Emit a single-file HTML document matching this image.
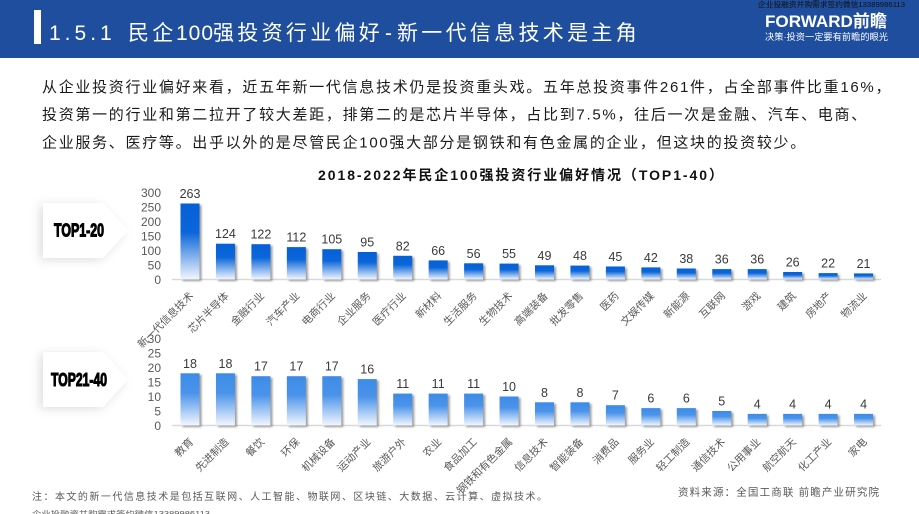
<!DOCTYPE html>
<html><head><meta charset="utf-8"><style>
html,body{margin:0;padding:0;background:#fff;}
body{width:919px;height:514px;overflow:hidden;}
svg{display:block;}
.f{font-family:"Liberation Sans","Noto Sans CJK SC",sans-serif;}
.v{font-family:"Liberation Sans",sans-serif;font-size:12.5px;fill:#3a3a3a;text-anchor:middle;}
.y{font-family:"Liberation Sans",sans-serif;font-size:12px;fill:#595959;text-anchor:end;}
.xl{font-family:"Liberation Sans","Noto Sans CJK SC",sans-serif;font-size:10.5px;fill:#595959;text-anchor:end;}
.s{fill:#7a7a7a;opacity:.75;filter:url(#bl);}
</style></head><body>
<svg width="919" height="514" viewBox="0 0 919 514" xmlns="http://www.w3.org/2000/svg">
<defs>
<linearGradient id="g1" x1="0" y1="0" x2="0" y2="1"><stop offset="0" stop-color="#0560d8"/><stop offset="0.38" stop-color="#0b66da"/><stop offset="1" stop-color="#f3f7fe"/></linearGradient>
<linearGradient id="g2" x1="0" y1="0" x2="0" y2="1"><stop offset="0" stop-color="#3d8be8"/><stop offset="0.38" stop-color="#4a93ea"/><stop offset="1" stop-color="#f3f7fe"/></linearGradient>
<filter id="bl" x="-30%" y="-30%" width="160%" height="160%"><feGaussianBlur stdDeviation="1"/></filter>
<filter id="ds" x="-30%" y="-40%" width="160%" height="180%"><feDropShadow dx="-3" dy="2" stdDeviation="5" flood-color="#000" flood-opacity="0.13"/></filter>
</defs>

<!-- header -->
<rect x="0" y="0" width="919" height="58" fill="#1f4e9e"/>
<rect x="34" y="10" width="7" height="34" fill="#fff"/>
<text class="f" y="40" font-size="21" fill="#fff">
<tspan x="49" letter-spacing="4">1.5.1</tspan><tspan x="128" letter-spacing="3.3">民企</tspan><tspan x="176" letter-spacing="1">100</tspan><tspan x="213" letter-spacing="3.3">强投资行业偏好</tspan><tspan x="385">-</tspan><tspan x="397" letter-spacing="3.3">新一代信息技术是主角</tspan>
</text>
<text class="f" x="758" y="7" font-size="7.5" fill="#111" textLength="147" lengthAdjust="spacingAndGlyphs">企业投融资并购需求签约微信13389986113</text>
<text class="f" x="765" y="27" font-size="17" font-weight="bold" fill="#fff" textLength="122" lengthAdjust="spacingAndGlyphs">FORWARD前瞻</text>
<text class="f" x="765" y="40" font-size="9" fill="#fff" textLength="123" lengthAdjust="spacingAndGlyphs">决策·投资一定要有前瞻的眼光</text>

<!-- paragraph -->
<g class="f" font-size="15" fill="#1a1a1a" letter-spacing="1.7">
<text x="42" y="92">从企业投资行业偏好来看，近五年新一代信息技术仍是投资重头戏。五年总投资事件261件，占全部事件比重16%，</text>
<text x="42" y="119.7">投资第一的行业和第二拉开了较大差距，排第二的是芯片半导体，占比到7.5%，往后一次是金融、汽车、电商、</text>
<text x="42" y="147.4">企业服务、医疗等。出乎以外的是尽管民企100强大部分是钢铁和有色金属的企业，但这块的投资较少。</text>
</g>

<!-- chart title -->
<text class="f" x="318" y="180" font-size="14" font-weight="bold" fill="#111" textLength="405" lengthAdjust="spacing">2018-2022年民企100强投资行业偏好情况（TOP1-40）</text>

<!-- chevrons -->
<polygon points="43,203 103,203 128,230.5 103,258 43,258" fill="#fff" filter="url(#ds)"/>
<polygon points="43,352 103,352 128,379.5 103,407 43,407" fill="#fff" filter="url(#ds)"/>
<text x="54" y="236.5" font-family="'Liberation Sans Narrow','Liberation Sans',sans-serif" font-weight="bold" font-size="18" fill="#000" stroke="#000" stroke-width="1.1" textLength="50" lengthAdjust="spacingAndGlyphs">TOP1-20</text>
<text x="51" y="386" font-family="'Liberation Sans Narrow','Liberation Sans',sans-serif" font-weight="bold" font-size="18" fill="#000" stroke="#000" stroke-width="1.1" textLength="56" lengthAdjust="spacingAndGlyphs">TOP21-40</text>

<!-- top axis -->
<g>
<text class="y" x="161" y="197.1">300</text>
<text class="y" x="161" y="211.6">250</text>
<text class="y" x="161" y="226">200</text>
<text class="y" x="161" y="240.5">150</text>
<text class="y" x="161" y="254.9">100</text>
<text class="y" x="161" y="269.3">50</text>
<text class="y" x="161" y="283.8">0</text>
</g>
<line x1="172" y1="279.5" x2="881" y2="279.5" stroke="#d9d9d9" stroke-width="1.5"/>

<g transform="translate(190,0)"><rect class="s" x="-7.5" y="205" width="19" height="76"/><rect x="-9.5" y="203.5" width="19" height="76" fill="url(#g1)"/><text class="v" y="198">263</text><text class="xl" transform="translate(4,296.5) rotate(-45)">新一代信息技术</text></g>
<g transform="translate(225.45,0)"><rect class="s" x="-7.5" y="245.2" width="19" height="35.8"/><rect x="-9.5" y="243.7" width="19" height="35.8" fill="url(#g1)"/><text class="v" y="238.2">124</text><text class="xl" transform="translate(4,296.5) rotate(-45)">芯片半导体</text></g>
<g transform="translate(260.9,0)"><rect class="s" x="-7.5" y="245.7" width="19" height="35.3"/><rect x="-9.5" y="244.2" width="19" height="35.3" fill="url(#g1)"/><text class="v" y="238.7">122</text><text class="xl" transform="translate(4,296.5) rotate(-45)">金融行业</text></g>
<g transform="translate(296.35,0)"><rect class="s" x="-7.5" y="248.6" width="19" height="32.4"/><rect x="-9.5" y="247.1" width="19" height="32.4" fill="url(#g1)"/><text class="v" y="241.6">112</text><text class="xl" transform="translate(4,296.5) rotate(-45)">汽车产业</text></g>
<g transform="translate(331.8,0)"><rect class="s" x="-7.5" y="250.7" width="19" height="30.3"/><rect x="-9.5" y="249.2" width="19" height="30.3" fill="url(#g1)"/><text class="v" y="243.7">105</text><text class="xl" transform="translate(4,296.5) rotate(-45)">电商行业</text></g>
<g transform="translate(367.25,0)"><rect class="s" x="-7.5" y="253.5" width="19" height="27.5"/><rect x="-9.5" y="252" width="19" height="27.5" fill="url(#g1)"/><text class="v" y="246.5">95</text><text class="xl" transform="translate(4,296.5) rotate(-45)">企业服务</text></g>
<g transform="translate(402.7,0)"><rect class="s" x="-7.5" y="257.3" width="19" height="23.7"/><rect x="-9.5" y="255.8" width="19" height="23.7" fill="url(#g1)"/><text class="v" y="250.3">82</text><text class="xl" transform="translate(4,296.5) rotate(-45)">医疗行业</text></g>
<g transform="translate(438.15,0)"><rect class="s" x="-7.5" y="261.9" width="19" height="19.1"/><rect x="-9.5" y="260.4" width="19" height="19.1" fill="url(#g1)"/><text class="v" y="254.9">66</text><text class="xl" transform="translate(4,296.5) rotate(-45)">新材料</text></g>
<g transform="translate(473.6,0)"><rect class="s" x="-7.5" y="264.8" width="19" height="16.2"/><rect x="-9.5" y="263.3" width="19" height="16.2" fill="url(#g1)"/><text class="v" y="257.8">56</text><text class="xl" transform="translate(4,296.5) rotate(-45)">生活服务</text></g>
<g transform="translate(509.05,0)"><rect class="s" x="-7.5" y="265.1" width="19" height="15.9"/><rect x="-9.5" y="263.6" width="19" height="15.9" fill="url(#g1)"/><text class="v" y="258.1">55</text><text class="xl" transform="translate(4,296.5) rotate(-45)">生物技术</text></g>
<g transform="translate(544.5,0)"><rect class="s" x="-7.5" y="266.8" width="19" height="14.2"/><rect x="-9.5" y="265.3" width="19" height="14.2" fill="url(#g1)"/><text class="v" y="259.8">49</text><text class="xl" transform="translate(4,296.5) rotate(-45)">高端装备</text></g>
<g transform="translate(579.95,0)"><rect class="s" x="-7.5" y="267.1" width="19" height="13.9"/><rect x="-9.5" y="265.6" width="19" height="13.9" fill="url(#g1)"/><text class="v" y="260.1">48</text><text class="xl" transform="translate(4,296.5) rotate(-45)">批发零售</text></g>
<g transform="translate(615.4,0)"><rect class="s" x="-7.5" y="268" width="19" height="13"/><rect x="-9.5" y="266.5" width="19" height="13" fill="url(#g1)"/><text class="v" y="261">45</text><text class="xl" transform="translate(4,296.5) rotate(-45)">医药</text></g>
<g transform="translate(650.85,0)"><rect class="s" x="-7.5" y="268.9" width="19" height="12.1"/><rect x="-9.5" y="267.4" width="19" height="12.1" fill="url(#g1)"/><text class="v" y="261.9">42</text><text class="xl" transform="translate(4,296.5) rotate(-45)">文娱传媒</text></g>
<g transform="translate(686.3,0)"><rect class="s" x="-7.5" y="270" width="19" height="11"/><rect x="-9.5" y="268.5" width="19" height="11" fill="url(#g1)"/><text class="v" y="263">38</text><text class="xl" transform="translate(4,296.5) rotate(-45)">新能源</text></g>
<g transform="translate(721.75,0)"><rect class="s" x="-7.5" y="270.6" width="19" height="10.4"/><rect x="-9.5" y="269.1" width="19" height="10.4" fill="url(#g1)"/><text class="v" y="263.6">36</text><text class="xl" transform="translate(4,296.5) rotate(-45)">互联网</text></g>
<g transform="translate(757.2,0)"><rect class="s" x="-7.5" y="270.6" width="19" height="10.4"/><rect x="-9.5" y="269.1" width="19" height="10.4" fill="url(#g1)"/><text class="v" y="263.6">36</text><text class="xl" transform="translate(4,296.5) rotate(-45)">游戏</text></g>
<g transform="translate(792.65,0)"><rect class="s" x="-7.5" y="273.5" width="19" height="7.5"/><rect x="-9.5" y="272" width="19" height="7.5" fill="url(#g1)"/><text class="v" y="266.5">26</text><text class="xl" transform="translate(4,296.5) rotate(-45)">建筑</text></g>
<g transform="translate(828.1,0)"><rect class="s" x="-7.5" y="274.6" width="19" height="6.4"/><rect x="-9.5" y="273.1" width="19" height="6.4" fill="url(#g1)"/><text class="v" y="267.6">22</text><text class="xl" transform="translate(4,296.5) rotate(-45)">房地产</text></g>
<g transform="translate(863.55,0)"><rect class="s" x="-7.5" y="274.9" width="19" height="6.1"/><rect x="-9.5" y="273.4" width="19" height="6.1" fill="url(#g1)"/><text class="v" y="267.9">21</text><text class="xl" transform="translate(4,296.5) rotate(-45)">物流业</text></g>

<!-- bottom axis -->
<g>
<text class="y" x="161" y="342.8">30</text>
<text class="y" x="161" y="357.3">25</text>
<text class="y" x="161" y="371.8">20</text>
<text class="y" x="161" y="386.3">15</text>
<text class="y" x="161" y="400.8">10</text>
<text class="y" x="161" y="415.3">5</text>
<text class="y" x="161" y="429.8">0</text>
</g>
<line x1="172" y1="425.5" x2="881" y2="425.5" stroke="#d9d9d9" stroke-width="1.5"/>

<g transform="translate(190,0)"><rect class="s" x="-7.5" y="374.8" width="19" height="52.2"/><rect x="-9.5" y="373.3" width="19" height="52.2" fill="url(#g2)"/><text class="v" y="367.8">18</text><text class="xl" transform="translate(4,442.5) rotate(-45)">教育</text></g>
<g transform="translate(225.45,0)"><rect class="s" x="-7.5" y="374.8" width="19" height="52.2"/><rect x="-9.5" y="373.3" width="19" height="52.2" fill="url(#g2)"/><text class="v" y="367.8">18</text><text class="xl" transform="translate(4,442.5) rotate(-45)">先进制造</text></g>
<g transform="translate(260.9,0)"><rect class="s" x="-7.5" y="377.7" width="19" height="49.3"/><rect x="-9.5" y="376.2" width="19" height="49.3" fill="url(#g2)"/><text class="v" y="370.7">17</text><text class="xl" transform="translate(4,442.5) rotate(-45)">餐饮</text></g>
<g transform="translate(296.35,0)"><rect class="s" x="-7.5" y="377.7" width="19" height="49.3"/><rect x="-9.5" y="376.2" width="19" height="49.3" fill="url(#g2)"/><text class="v" y="370.7">17</text><text class="xl" transform="translate(4,442.5) rotate(-45)">环保</text></g>
<g transform="translate(331.8,0)"><rect class="s" x="-7.5" y="377.7" width="19" height="49.3"/><rect x="-9.5" y="376.2" width="19" height="49.3" fill="url(#g2)"/><text class="v" y="370.7">17</text><text class="xl" transform="translate(4,442.5) rotate(-45)">机械设备</text></g>
<g transform="translate(367.25,0)"><rect class="s" x="-7.5" y="380.6" width="19" height="46.4"/><rect x="-9.5" y="379.1" width="19" height="46.4" fill="url(#g2)"/><text class="v" y="373.6">16</text><text class="xl" transform="translate(4,442.5) rotate(-45)">运动产业</text></g>
<g transform="translate(402.7,0)"><rect class="s" x="-7.5" y="395.1" width="19" height="31.9"/><rect x="-9.5" y="393.6" width="19" height="31.9" fill="url(#g2)"/><text class="v" y="388.1">11</text><text class="xl" transform="translate(4,442.5) rotate(-45)">旅游户外</text></g>
<g transform="translate(438.15,0)"><rect class="s" x="-7.5" y="395.1" width="19" height="31.9"/><rect x="-9.5" y="393.6" width="19" height="31.9" fill="url(#g2)"/><text class="v" y="388.1">11</text><text class="xl" transform="translate(4,442.5) rotate(-45)">农业</text></g>
<g transform="translate(473.6,0)"><rect class="s" x="-7.5" y="395.1" width="19" height="31.9"/><rect x="-9.5" y="393.6" width="19" height="31.9" fill="url(#g2)"/><text class="v" y="388.1">11</text><text class="xl" transform="translate(4,442.5) rotate(-45)">食品加工</text></g>
<g transform="translate(509.05,0)"><rect class="s" x="-7.5" y="398" width="19" height="29"/><rect x="-9.5" y="396.5" width="19" height="29" fill="url(#g2)"/><text class="v" y="391">10</text><text class="xl" transform="translate(4,442.5) rotate(-45)">钢铁和有色金属</text></g>
<g transform="translate(544.5,0)"><rect class="s" x="-7.5" y="403.8" width="19" height="23.2"/><rect x="-9.5" y="402.3" width="19" height="23.2" fill="url(#g2)"/><text class="v" y="396.8">8</text><text class="xl" transform="translate(4,442.5) rotate(-45)">信息技术</text></g>
<g transform="translate(579.95,0)"><rect class="s" x="-7.5" y="403.8" width="19" height="23.2"/><rect x="-9.5" y="402.3" width="19" height="23.2" fill="url(#g2)"/><text class="v" y="396.8">8</text><text class="xl" transform="translate(4,442.5) rotate(-45)">智能装备</text></g>
<g transform="translate(615.4,0)"><rect class="s" x="-7.5" y="406.7" width="19" height="20.3"/><rect x="-9.5" y="405.2" width="19" height="20.3" fill="url(#g2)"/><text class="v" y="399.7">7</text><text class="xl" transform="translate(4,442.5) rotate(-45)">消费品</text></g>
<g transform="translate(650.85,0)"><rect class="s" x="-7.5" y="409.6" width="19" height="17.4"/><rect x="-9.5" y="408.1" width="19" height="17.4" fill="url(#g2)"/><text class="v" y="402.6">6</text><text class="xl" transform="translate(4,442.5) rotate(-45)">服务业</text></g>
<g transform="translate(686.3,0)"><rect class="s" x="-7.5" y="409.6" width="19" height="17.4"/><rect x="-9.5" y="408.1" width="19" height="17.4" fill="url(#g2)"/><text class="v" y="402.6">6</text><text class="xl" transform="translate(4,442.5) rotate(-45)">轻工制造</text></g>
<g transform="translate(721.75,0)"><rect class="s" x="-7.5" y="412.5" width="19" height="14.5"/><rect x="-9.5" y="411" width="19" height="14.5" fill="url(#g2)"/><text class="v" y="405.5">5</text><text class="xl" transform="translate(4,442.5) rotate(-45)">通信技术</text></g>
<g transform="translate(757.2,0)"><rect class="s" x="-7.5" y="415.4" width="19" height="11.6"/><rect x="-9.5" y="413.9" width="19" height="11.6" fill="url(#g2)"/><text class="v" y="408.4">4</text><text class="xl" transform="translate(4,442.5) rotate(-45)">公用事业</text></g>
<g transform="translate(792.65,0)"><rect class="s" x="-7.5" y="415.4" width="19" height="11.6"/><rect x="-9.5" y="413.9" width="19" height="11.6" fill="url(#g2)"/><text class="v" y="408.4">4</text><text class="xl" transform="translate(4,442.5) rotate(-45)">航空航天</text></g>
<g transform="translate(828.1,0)"><rect class="s" x="-7.5" y="415.4" width="19" height="11.6"/><rect x="-9.5" y="413.9" width="19" height="11.6" fill="url(#g2)"/><text class="v" y="408.4">4</text><text class="xl" transform="translate(4,442.5) rotate(-45)">化工产业</text></g>
<g transform="translate(863.55,0)"><rect class="s" x="-7.5" y="415.4" width="19" height="11.6"/><rect x="-9.5" y="413.9" width="19" height="11.6" fill="url(#g2)"/><text class="v" y="408.4">4</text><text class="xl" transform="translate(4,442.5) rotate(-45)">家电</text></g>

<!-- footer -->
<text class="f" x="32" y="500" font-size="10" fill="#595959" textLength="515" lengthAdjust="spacing">注：本文的新一代信息技术是包括互联网、人工智能、物联网、区块链、大数据、云计算、虚拟技术。</text>
<text class="f" x="678" y="495.5" font-size="10.5" fill="#595959" textLength="201" lengthAdjust="spacing">资料来源：全国工商联 前瞻产业研究院</text>
<text class="f" x="32" y="516" font-size="7" fill="#555" textLength="178" lengthAdjust="spacingAndGlyphs">企业投融资并购需求签约微信13389986113</text>
</svg>
</body></html>
